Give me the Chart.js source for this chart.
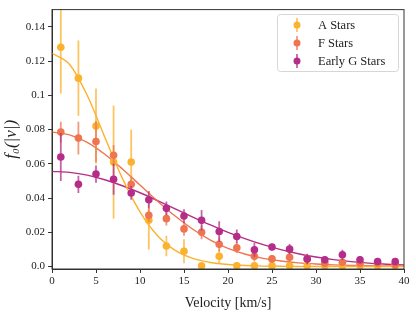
<!DOCTYPE html>
<html><head><meta charset="utf-8">
<script src="https://cdn.jsdelivr.net/npm/chart.js@4"></script>
<style>html,body{margin:0;padding:0;background:#fff}#wrap{width:416px;height:312px}</style>
</head><body><div id="wrap"><canvas id="c" width="416" height="312"></canvas></div>
<script>
const seriesNames = ['A Stars', 'F Stars', 'Early G Stars'];
const velocity = [1,3,5,7,9,11,13,15,17,19,21,23,25,27,29,31,33,35,37,39];
const aStars = [0.128,0.110,0.082,0.061,0.061,0.027,0.012,0.009,0.0005,0.006,0.0005,0.0005,0.0005,0.0005,0.0005,0.0005,0.0005,0.0005,0.0005,0.0005];
const aErr   = [0.027,0.022,0.022,0.033,0.019,0.017,0.006,0.007,0.001,0.004,0.002,0.002,0.002,0.001,0.001,0.001,0.001,0.001,0.001,0.001];
const fStars = [0.0785,0.075,0.073,0.065,0.048,0.030,0.028,0.022,0.020,0.013,0.011,0.006,0.0045,0.0055,0.0045,0.002,0.0025,0.002,0.002,0.0012];
const fErr   = [0.006,0.0095,0.012,0.006,0.005,0.004,0.004,0.004,0.004,0.004,0.003,0.003,0.002,0.003,0.003,0.002,0.002,0.002,0.001,0.001];
const gStars = [0.064,0.048,0.054,0.051,0.043,0.039,0.034,0.0295,0.027,0.0205,0.0176,0.0098,0.0114,0.0102,0.0044,0.004,0.0069,0.004,0.003,0.0029];
const gErr   = [0.014,0.005,0.005,0.009,0.004,0.005,0.004,0.004,0.006,0.006,0.004,0.004,0.002,0.003,0.003,0.002,0.003,0.002,0.002,0.002];
const curveV = [0,2,4,6,8,10,12,14,16,18,20,22,24,26,28,30,32,34,36,38,40];
const aCurve = [0.1245,0.118,0.100,0.0755,0.0515,0.032,0.018,0.0095,0.0048,0.0024,0.0012,0.0006,0.0003,0.0002,0.0001,0.0001,0.0001,0.0001,0.0001,0.0001,0.0001];
const fCurve = [0.0785,0.0769,0.0725,0.0656,0.0570,0.0476,0.0382,0.0295,0.0218,0.0155,0.0106,0.0072,0.0048,0.0033,0.0022,0.0015,0.0010,0.0007,0.0005,0.0004,0.0003];
const gCurve = [0.0556,0.0550,0.0534,0.0507,0.0472,0.0431,0.0385,0.0337,0.0289,0.0243,0.0200,0.0162,0.0128,0.0099,0.0075,0.0056,0.0041,0.0029,0.0020,0.0014,0.0009];
const xTicks = [0,5,10,15,20,25,30,35,40];
const yTicks = [0,0.02,0.04,0.06,0.08,0.1,0.12,0.14];
const yTickLabels = ['0.0','0.02','0.04','0.06','0.08','0.1','0.12','0.14'];

const colors = ['#fbb22e', '#ef7550', '#b42d88'];
const errColors = ['rgba(251,178,46,0.75)', 'rgba(239,117,80,0.75)', 'rgba(180,45,136,0.75)'];
const FONT = "'Liberation Serif','DejaVu Serif',serif";

const vals = [aStars, fStars, gStars];
const errs = [aErr, fErr, gErr];
const curves = [aCurve, fCurve, gCurve];

function pts(xs, ys){ return xs.map((x,i)=>({x:x, y:ys[i]})); }
function errPts(xs, ys, es){
  const out = [];
  xs.forEach((x,i)=>{ out.push({x:x,y:ys[i]-es[i]}); out.push({x:x,y:ys[i]+es[i]}); out.push({x:x,y:null}); });
  return out;
}

const datasets = [];
for (let s = 2; s >= 0; s--) {
  datasets.push({ label: seriesNames[s], type:'scatter', data: pts(velocity, vals[s]), backgroundColor: colors[s], borderColor: colors[s],
    pointRadius: 3.8, pointHoverRadius: 3.8, borderWidth: 0, showLine:false, order: (2-s)*2 });
  datasets.push({ label: seriesNames[s]+' err', type:'line', data: errPts(velocity, vals[s], errs[s]), borderColor: errColors[s],
    borderWidth: 1.8, pointRadius: 0, spanGaps:false, fill:false, order: (2-s)*2+1 });
}
for (let s = 0; s < 3; s++) {
  datasets.push({ label: seriesNames[s]+' fit', type:'line', data: pts(curveV, curves[s]), borderColor: colors[s], borderWidth: 1.4,
    pointRadius: 0, fill:false, cubicInterpolationMode:'monotone', order: 10+s });
}

const frame = {
  id:'frame',
  afterDatasetsDraw(chart){
    const {ctx, chartArea:a} = chart;
    ctx.save();
    ctx.strokeStyle = '#333'; ctx.lineWidth = 1;
    ctx.strokeRect(a.left, a.top, a.right-a.left, a.bottom-a.top);
    const bx = 277.5, by = 14.5, bw = 121, bh = 57;
    ctx.fillStyle = 'rgba(255,255,255,0.85)';
    ctx.strokeStyle = '#d6d6d6'; ctx.lineWidth = 1;
    ctx.beginPath();
    if (ctx.roundRect) ctx.roundRect(bx, by, bw, bh, 3); else ctx.rect(bx,by,bw,bh);
    ctx.fill(); ctx.stroke();
    const rows = [25, 43, 61];
    ctx.font = "12.5px " + FONT;
    ctx.textBaseline = 'middle';
    for (let s = 0; s < 3; s++) {
      const y = rows[s], x = 297;
      ctx.strokeStyle = errColors[s]; ctx.lineWidth = 1.8;
      ctx.beginPath(); ctx.moveTo(x, y-7); ctx.lineTo(x, y+7); ctx.stroke();
      ctx.fillStyle = colors[s];
      ctx.beginPath(); ctx.arc(x, y, 3.5, 0, Math.PI*2); ctx.fill();
      ctx.fillStyle = '#222';
      ctx.fillText(seriesNames[s], 318, y+0.5);
    }
    ctx.restore();
  }
};

new Chart(document.getElementById('c'), {
  type: 'scatter',
  data: { datasets },
  options: {
    responsive:false, animation:false, devicePixelRatio:1,
    layout: { padding: { top: 8, right: 12, left: 0, bottom: 0 } },
    plugins: { legend: { display:false }, tooltip: { enabled:false } },
    scales: {
      x: {
        type:'linear', min:0, max:40,
        afterBuildTicks: s => { s.ticks = xTicks.map(v=>({value:v})); },
        afterFit: s => { s.height = 43; },
        ticks: { color:'#222', font:{ family:FONT, size:11 }, padding:2, maxRotation:0, autoSkip:false },
        grid: { drawOnChartArea:false, drawTicks:true, tickLength:4, color:'#333', tickWidth:1 },
        border: { display:true, color:'#333', width:1 },
        title: { display:true, text:'Velocity [km/s]', color:'#222', font:{ family:FONT, size:14 }, padding:{top:2, bottom:0} }
      },
      y: {
        type:'linear', min:-0.0014, max:0.15,
        afterBuildTicks: s => { s.ticks = yTicks.map(v=>({value:v})); },
        afterFit: s => { s.width = 52; },
        ticks: { color:'#222', font:{ family:FONT, size:11 }, padding:3, autoSkip:false,
          callback: (v) => { const i = yTicks.findIndex(t=>Math.abs(t-v)<1e-9); return i>=0 ? yTickLabels[i] : ''; } },
        grid: { drawOnChartArea:false, drawTicks:true, tickLength:4, color:'#333', tickWidth:1 },
        border: { display:true, color:'#333', width:1 },
        title: { display:true, text:'f₀(|v|)', color:'#222', font:{ family:FONT, size:17, style:'italic' }, padding:{top:1, bottom:0} }
      }
    }
  },
  plugins: [frame]
});
</script></body></html>
